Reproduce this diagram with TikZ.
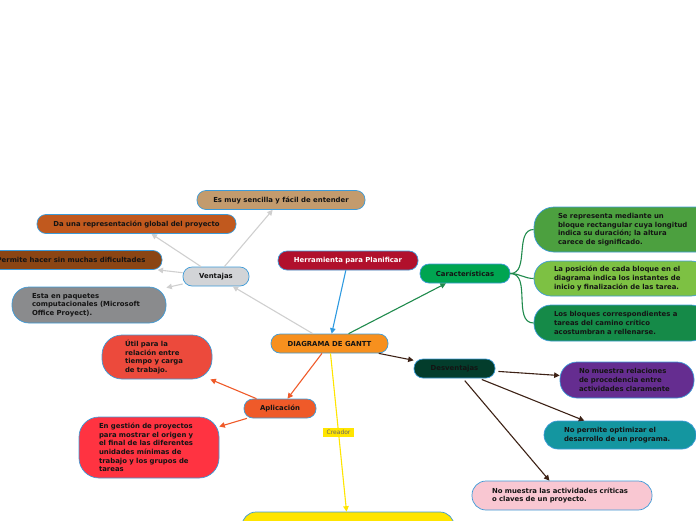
\documentclass[tikz,border=0pt]{standalone}
\usepackage{fontspec}
\setmainfont{DejaVu Sans}
\usetikzlibrary{arrows.meta}

\definecolor{borde}{HTML}{3D9BD8}
\definecolor{tinta}{HTML}{141414}
\definecolor{cTan}{HTML}{C39B6D}
\definecolor{cOcre}{HTML}{C1591E}
\definecolor{cMarron}{HTML}{8B4513}
\definecolor{cGris}{HTML}{8A8B8D}
\definecolor{cClaro}{HTML}{D2D4D7}
\definecolor{cGrana}{HTML}{B1102C}
\definecolor{cVerde}{HTML}{00A551}
\definecolor{cNaranja}{HTML}{F7901E}
\definecolor{cOscuro}{HTML}{033D2C}
\definecolor{cRojo}{HTML}{EC4A3C}
\definecolor{cAplic}{HTML}{EF5A29}
\definecolor{cRojoB}{HTML}{FF3341}
\definecolor{cAmarillo}{HTML}{FFE500}
\definecolor{cVerdeA}{HTML}{4CA03F}
\definecolor{cVerdeB}{HTML}{7DC143}
\definecolor{cVerdeC}{HTML}{158A48}
\definecolor{cMorado}{HTML}{652D90}
\definecolor{cTurquesa}{HTML}{1496A0}
\definecolor{cRosa}{HTML}{F9C7D2}
\definecolor{lGris}{HTML}{CFCFCF}
\definecolor{lAzul}{HTML}{2E9AE0}
\definecolor{lVerde}{HTML}{1F8A4C}
\definecolor{lCafe}{HTML}{3D2216}

\begin{document}
\begin{tikzpicture}[x=1pt, y=-1pt,
    idea/.style={draw=borde, line width=0.7pt, rounded corners=9pt, minimum height=19pt,
        inner sep=0pt, text=tinta, font=\fontsize{6.9}{8.7}\selectfont\bfseries},
    bloque/.style={idea, align=left, text width=#1},
    flecha/.style={line width=1.1pt, -{Triangle[length=5.5pt,width=5.5pt]}},
    etiqueta/.style={fill=cAmarillo, text=black!60, inner xsep=3.5pt, inner ysep=2.5pt,
        font=\fontsize{6}{7}\selectfont}]
    \useasboundingbox (0,0) rectangle (696,520);
    \clip (0,0) rectangle (696,520);
    % centro
    \node[idea, fill=cNaranja, minimum width=117pt] (gantt) at (329.5,343.5) {DIAGRAMA DE GANTT};
    \node[idea, fill=cGrana, text=white, minimum width=140pt] (herramienta) at (348,260.5) {Herramienta para Planificar};
    \node[idea, fill=cAmarillo, minimum width=212pt, minimum height=28pt, rounded corners=14pt] (creador) at (348,526) {};
    % ventajas
    \node[idea, fill=cClaro, minimum width=66pt] (ventajas) at (216,276.5) {Ventajas};
    \node[idea, fill=cTan, minimum width=168pt] (sencilla) at (281,200) {Es muy sencilla y fácil de entender};
    \node[idea, fill=cOcre, minimum width=199pt] (global) at (136.5,224) {Da una representación global del proyecto};
    \node[idea, fill=cMarron, minimum width=182pt] (permite) at (71,260) {Permite hacer sin muchas dificultades};
    \node[bloque=114pt, fill=cGris, minimum width=154pt, minimum height=36pt, rounded corners=17pt] (paquetes) at (89,305)
        {Esta en paquetes\\computacionales (Microsoft\\Office Proyect).};
    % caracteristicas
    \node[idea, fill=cVerde, minimum width=90pt] (caract) at (465,273.5) {Características};
    \node[bloque=136pt, fill=cVerdeA, minimum width=184pt, minimum height=45pt, rounded corners=20pt] (bloqueA) at (626,229.5)
        {Se representa mediante un\\bloque rectangular cuya longitud\\indica su duración; la altura\\carece de significado.};
    \node[bloque=134pt, fill=cVerdeB, minimum width=174pt, minimum height=35pt, rounded corners=17pt] (bloqueB) at (621,278.5)
        {La posición de cada bloque en el\\diagrama indica los instantes de\\inicio y finalización de las tarea.};
    \node[bloque=134pt, fill=cVerdeC, minimum width=174pt, minimum height=36pt, rounded corners=17pt] (bloqueC) at (621,323)
        {Los bloques correspondientes a\\tareas del camino crítico\\acostumbran a rellenarse.};
    % desventajas
    \node[idea, fill=cOscuro, minimum width=81pt] (desv) at (454.5,368.5) {Desventajas};
    \node[bloque=96pt, fill=cMorado, minimum width=134pt, minimum height=36pt, rounded corners=17pt] (relaciones) at (627,380)
        {No muestra relaciones\\de procedencia entre\\actividades claramente};
    \node[bloque=112pt, fill=cTurquesa, minimum width=152pt, minimum height=28pt, rounded corners=14pt] (optimizar) at (620,435)
        {No permite optimizar el\\desarrollo de un programa.};
    \node[bloque=140pt, fill=cRosa, minimum width=180pt, minimum height=29pt, rounded corners=14pt] (criticas) at (562,495.5)
        {No muestra las actividades críticas\\o claves de un proyecto.};
    % aplicacion
    \node[idea, fill=cAplic, minimum width=72pt] (aplic) at (280,408.5) {Aplicación};
    \node[bloque=64pt, fill=cRojo, minimum width=110pt, minimum height=44pt, rounded corners=20pt] (util) at (157,357)
        {Útil para la\\relación entre\\tiempo y carga\\de trabajo.};
    \node[bloque=100pt, fill=cRojoB, minimum width=140pt, minimum height=61pt, rounded corners=20pt] (gestion) at (149,447.5)
        {En gestión de proyectos\\para mostrar el origen y\\el final de las diferentes\\unidades mínimas de\\trabajo y los grupos de\\tareas};
    % conectores
    \draw[flecha, lGris] (gantt) -- (ventajas);
    \foreach \hijo in {sencilla, global, permite, paquetes}
        \draw[flecha, lGris] (ventajas) -- (\hijo);
    \draw[flecha, lAzul] (herramienta) -- (gantt);
    \draw[flecha, lVerde] (gantt) -- (caract);
    \foreach \hijo in {bloqueA, bloqueB, bloqueC}
        \draw[lVerde, line width=1.1pt] (caract.east) to[out=0, in=180] (\hijo.west);
    \draw[flecha, lCafe] (gantt) -- (desv);
    \foreach \hijo in {relaciones, optimizar, criticas}
        \draw[flecha, lCafe, shorten <=3pt] (desv) -- (\hijo);
    \draw[flecha, cAplic] (gantt) -- (aplic);
    \foreach \hijo in {util, gestion}
        \draw[flecha, cAplic] (aplic) -- (\hijo);
    \draw[flecha, cAmarillo] (gantt) -- node[etiqueta] (rotulo) {Creador} (creador);
\end{tikzpicture}
\end{document}
